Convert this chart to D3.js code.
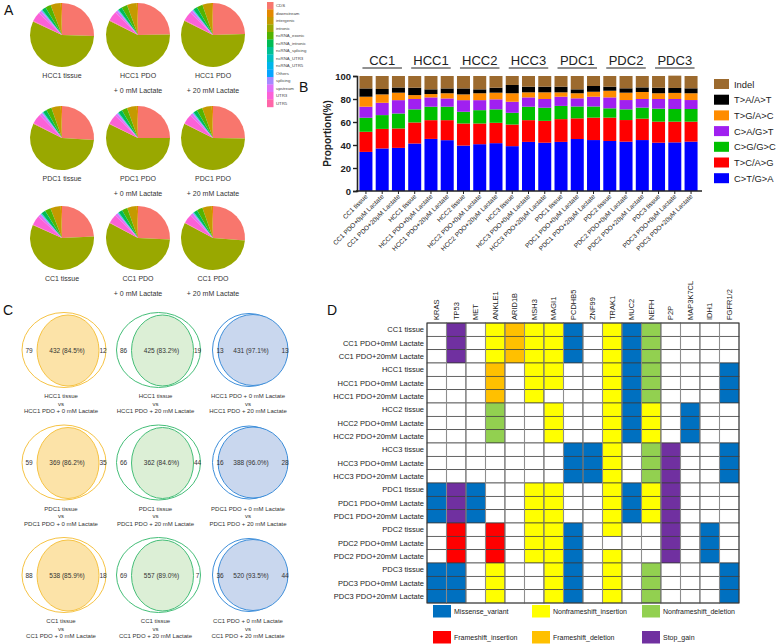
<!DOCTYPE html>
<html>
<head>
<meta charset="utf-8">
<script src="https://cdn.jsdelivr.net/npm/d3@7"></script>
<style>
  body { margin: 0; background: #fff; }
  svg { font-family: Arial, "Liberation Sans", sans-serif; }
</style>
</head>
<body>
<div id="figure"></div>
<script>
// ---------- panel A : region annotation pies ----------
const pieCategories = ["CDS", "downstream", "intergenic", "intronic", "ncRNA_exonic", "ncRNA_intronic",
  "ncRNA_splicing", "ncRNA_UTR3", "ncRNA_UTR5", "Others", "splicing", "upstream", "UTR3", "UTR5"];
// order the slices are laid out clockwise from 12 o'clock
const pieDrawOrder = ["CDS", "intronic", "UTR5", "UTR3", "upstream", "splicing", "Others", "ncRNA_UTR5",
  "ncRNA_UTR3", "ncRNA_splicing", "ncRNA_intronic", "ncRNA_exonic", "intergenic", "downstream"];
const pieRowNames = ["HCC1", "PDC1", "CC1"];
// values in pieCategories order, one array per sample (tissue, PDO+0, PDO+20)
const pieHCC1 = [
  [25.5, 0.6, 5.2, 56.5, 2.8, 2.0, 0.1, 0.2, 0.1, 0.2, 0.4, 1.3, 4.8, 0.3],
  [24.8, 0.6, 5.0, 57.6, 2.9, 1.9, 0.1, 0.2, 0.1, 0.2, 0.3, 1.2, 4.8, 0.3],
  [24.5, 0.5, 4.9, 57.9, 3.0, 2.0, 0.1, 0.2, 0.1, 0.2, 0.3, 1.3, 4.7, 0.3]
];
const piePDC1 = [
  [26.0, 0.6, 4.8, 56.4, 2.7, 1.9, 0.1, 0.2, 0.1, 0.2, 0.3, 1.4, 5.0, 0.3],
  [25.0, 0.6, 5.0, 57.2, 2.8, 2.0, 0.1, 0.2, 0.1, 0.2, 0.3, 1.3, 4.9, 0.3],
  [25.3, 0.6, 4.9, 57.0, 2.9, 1.9, 0.1, 0.2, 0.1, 0.2, 0.3, 1.3, 4.9, 0.3]
];
const pieCC1 = [
  [24.2, 0.6, 5.3, 57.5, 3.0, 2.1, 0.1, 0.2, 0.1, 0.2, 0.3, 1.4, 4.7, 0.3],
  [25.8, 0.6, 4.9, 56.9, 2.8, 2.0, 0.1, 0.2, 0.1, 0.2, 0.3, 1.3, 4.5, 0.3],
  [26.2, 0.6, 4.8, 56.6, 2.9, 1.9, 0.1, 0.2, 0.1, 0.2, 0.3, 1.3, 4.5, 0.3]
];

// ---------- panel B : mutation spectrum ----------
const spectrumTypes = ["C>T/G>A", "T>C/A>G", "C>G/G>C", "C>A/G>T", "T>G/A>C", "T>A/A>T", "Indel"];
const spectrumGroups = ["CC1", "HCC1", "HCC2", "HCC3", "PDC1", "PDC2", "PDC3"];
const spectrumSamples = [];
spectrumGroups.forEach(g => {
  spectrumSamples.push(g + " tissue", g + " PDO+0μM Lactate", g + " PDO+20μM Lactate");
});
const ctga  = [34, 37, 37.5, 41.3, 45.3, 44.2, 39.5, 40.7, 41.6, 39, 42.7, 42, 42.7, 45.2, 44.3, 43.5, 42.9, 44.3, 42, 42.3, 42.9];
const tcag  = [17.5, 17, 16.9, 18.3, 16.3, 17.4, 19.2, 18, 17.7, 18.8, 18.9, 19, 19.8, 18, 19.5, 20.3, 18.8, 18.6, 18.3, 18, 17.4];
const cggc  = [12.2, 12, 13, 11.4, 11.7, 11.7, 10.2, 11.6, 11.7, 10.2, 11.7, 11.4, 11.5, 10.3, 9.7, 8.1, 9.3, 9.6, 11.3, 11, 11];
const cagt  = [9.6, 10.7, 11.6, 9, 8.1, 7.2, 10.1, 8.7, 8.7, 9.6, 8.1, 7.6, 8, 7.1, 8.5, 9.5, 8.1, 7.5, 8.4, 8.7, 7.8];
const tgac  = [8.7, 7.3, 6.5, 3.4, 2.9, 4.5, 5, 6, 5.8, 7.4, 4.4, 5.8, 3.8, 4.4, 4.3, 5.8, 6.4, 6.1, 5, 5.3, 5.9];
const taat  = [7.2, 4.7, 4.5, 6.4, 4.1, 4.2, 5.2, 3.4, 4.3, 7.2, 4.9, 4.9, 4.9, 3.4, 5, 3.5, 3.8, 4, 4.8, 4.3, 4.3];
const indel = [10.8, 11.3, 10, 10.2, 11.6, 10.8, 10.8, 11.6, 10.2, 7.8, 9.3, 9.3, 9.3, 11.6, 8.7, 9.3, 10.7, 9.9, 10.2, 10.7, 10.7];
const spectrumTicks = [0, 20, 40, 60, 80, 100];

// ---------- panel C : venn overlaps ----------
const vennRows = ["HCC1", "PDC1", "CC1"];
const vennLeft   = [[79, 86, 13], [59, 66, 16], [88, 69, 36]];
const vennShared = [[432, 425, 431], [369, 362, 388], [538, 557, 520]];
const vennPct    = [["84.5%", "83.2%", "97.1%"], ["86.2%", "84.6%", "96.0%"], ["85.9%", "89.0%", "93.5%"]];
const vennRight  = [[12, 19, 13], [35, 44, 28], [18, 7, 44]];

// ---------- panel D : mutated genes ----------
const genes = ["KRAS", "TP53", "MET", "ANKLE1", "ARID1B", "MSH3", "MAGI1", "PCDHB5", "ZNF99", "TRAK1",
  "MUC2", "NEFH", "P2P", "MAP3K7CL", "IDH1", "FGFR1/2"];
const mutationSamples = [];
spectrumGroups.forEach(g => {
  mutationSamples.push(g + " tissue", g + " PDO+0mM Lactate", g + " PDO+20mM Lactate");
});
const mutationCodes = ["M", "I", "D", "F", "O", "S"];
const mutationTypes = ["Missense_variant", "Nonframeshift_insertion", "Nonframeshift_deletion",
  "Frameshift_insertion", "Frameshift_deletion", "Stop_gain"];
// one string per sample, one character per gene ("." = no mutation)
const mutationGrid = [
  ".S.IOIIM.IMD....", ".S.IOIIM.IMD....", ".S.IOIIM.IMD....",
  "...O.II..IMD...M", "...O.II..IMD...M", "...O.I...IMD...M",
  "...D..I..IMI.M..", "...D..I..IMI.M..", "...D..I..IMI.M..",
  ".......MMI.DS..M", ".......MMI.DS..M", ".......MMI.DS..M",
  "MSM..II..IMIS...", "MSM..II..IMIS...", "MSM..II..IMIS...",
  ".F.F.IIM.I..S.M.", ".F.F.IIM....S.M.", ".F.F.IIM.I..S.M.",
  "MM.I..IM.I.D...M", "MM.I..IM.I.D...M", "MM.I..IM.I.D...M"
];

// colours (styling, kept apart from the values)
const pieColors = ["#F8766D", "#E38900", "#C49A00", "#99A800", "#53B400", "#00BC56", "#00C094",
  "#00BFC4", "#00B6EB", "#06A4FF", "#A58AFF", "#DF70F8", "#FB61D7", "#FF66A8"];
const spectrumColors = ["#0000FF", "#FF0000", "#00C000", "#A020F0", "#FF8C00", "#000000", "#9C6A2E"];
const mutationColors = ["#0070C0", "#FFFF00", "#92D050", "#FF0000", "#FFC000", "#7030A0"];
const vennStyles = [
  { stroke: "#F6C344", fill: "#FCE3A8" },
  { stroke: "#45BE78", fill: "#DCEFD6" },
  { stroke: "#3D8EDA", fill: "#C9D7EE" }
];

const svg = d3.select("#figure").append("svg")
  .attr("width", 778).attr("height", 644)
  .style("background", "#fff");

Figure();

function Figure() {
  panelA();
  panelB();
  panelC();
  panelD();

  // panel letters
  const letters = [["A", 4, 15], ["B", 299, 92], ["C", 3, 315], ["D", 327, 315]];
  svg.selectAll(".letter").data(letters).enter().append("text")
    .attr("x", d => d[1]).attr("y", d => d[2])
    .style("font-size", "14px").style("fill", "#111")
    .text(d => d[0]);
}

function panelA() {
  const g = svg.append("g");
  const radius = 32;
  const colX = [62, 138, 213];
  const rowY = [35, 138, 238];
  const color = d3.scaleOrdinal().domain(pieCategories).range(pieColors);
  const pie = d3.pie()
    .value(d => d.value)
    .sort((a, b) => pieDrawOrder.indexOf(a.name) - pieDrawOrder.indexOf(b.name));
  const arc = d3.arc().innerRadius(0).outerRadius(radius);

  [pieHCC1, piePDC1, pieCC1].forEach((set, r) => {
    set.forEach((vals, c) => {
      const data = vals.map((v, i) => ({ name: pieCategories[i], value: v }));
      const pg = g.append("g").attr("transform", "translate(" + colX[c] + "," + rowY[r] + ")");
      pg.selectAll("path").data(pie(data)).enter().append("path")
        .attr("d", arc)
        .attr("fill", d => color(d.data.name));

      const name = pieRowNames[r];
      const lines = c === 0 ? [name + " tissue"]
        : [name + " PDO", c === 1 ? "+ 0 mM Lactate" : "+ 20 mM Lactate"];
      lines.forEach((t, i) => {
        pg.append("text")
          .attr("x", 0).attr("y", radius + 10.5 + i * 15)
          .attr("text-anchor", "middle")
          .style("font-size", "7px").style("fill", "#333")
          .text(t);
      });
    });
  });

  // legend strip
  const lg = g.append("g").attr("transform", "translate(267,2)");
  const step = 7.5;
  lg.selectAll("rect").data(pieCategories).enter().append("rect")
    .attr("x", 0).attr("y", (d, i) => i * step)
    .attr("width", 6.5).attr("height", step + 0.2)
    .attr("fill", d => color(d));
  lg.selectAll("text").data(pieCategories).enter().append("text")
    .attr("x", 9).attr("y", (d, i) => i * step + step / 2 + 1.5)
    .style("font-size", "4.3px").style("fill", "#444")
    .text(d => d);
}

function panelB() {
  const g = svg.append("g");
  const x = d3.scaleBand().domain(spectrumSamples).range([357, 700])
    .paddingInner(0.2).paddingOuter(0.15);
  const y = d3.scaleLinear().domain([0, 100]).range([191, 76]);

  const series = [ctga, tcag, cggc, cagt, tgac, taat, indel];
  const rows = spectrumSamples.map((s, i) => {
    const o = { sample: s };
    spectrumTypes.forEach((t, k) => { o[t] = series[k][i]; });
    return o;
  });
  const stacked = d3.stack().keys(spectrumTypes)(rows);

  g.selectAll(".layer").data(stacked).enter().append("g")
    .attr("fill", (d, i) => spectrumColors[i])
    .selectAll("rect").data(d => d).enter().append("rect")
    .attr("x", d => x(d.data.sample))
    .attr("y", d => y(d[1]))
    .attr("width", x.bandwidth())
    .attr("height", d => y(d[0]) - y(d[1]));

  // y axis
  const yAxis = g.append("g").attr("transform", "translate(357,0)")
    .call(d3.axisLeft(y).tickValues(spectrumTicks).tickSize(4).tickPadding(2));
  yAxis.select(".domain").attr("stroke", "#222").attr("stroke-width", 1.6);
  yAxis.selectAll(".tick line").attr("stroke", "#222").attr("stroke-width", 1.4);
  yAxis.selectAll(".tick text").style("font-size", "9.5px").style("font-weight", "bold")
    .style("fill", "#222").style("font-family", "Arial, 'Liberation Sans', sans-serif");

  // x axis
  const xAxis = g.append("g").attr("transform", "translate(0,191)")
    .call(d3.axisBottom(x).tickSize(3).tickSizeOuter(0).tickFormat(""));
  xAxis.select(".domain").attr("stroke", "#222").attr("stroke-width", 1.6)
    .attr("d", "M356,0H702");
  xAxis.selectAll(".tick line").attr("stroke", "#222").attr("stroke-width", 1);

  g.selectAll(".xlab").data(spectrumSamples).enter().append("text")
    .attr("transform", d => "translate(" + (x(d) + x.bandwidth() / 2 + 2) + ",197) rotate(-45)")
    .attr("text-anchor", "end")
    .style("font-size", "6.5px").style("fill", "#222")
    .text(d => d);

  // y title
  g.append("text")
    .attr("transform", "translate(331,133.5) rotate(-90)")
    .attr("text-anchor", "middle")
    .style("font-size", "10px").style("font-weight", "bold").style("fill", "#222")
    .text("Proportion(%)");

  // group headers with underline
  spectrumGroups.forEach((grp, i) => {
    const first = x(spectrumSamples[i * 3]);
    const last = x(spectrumSamples[i * 3 + 2]) + x.bandwidth();
    g.append("line")
      .attr("x1", first + 3).attr("x2", last - 3)
      .attr("y1", 68).attr("y2", 68)
      .attr("stroke", "#222").attr("stroke-width", 1);
    g.append("text")
      .attr("x", (first + last) / 2).attr("y", 65)
      .attr("text-anchor", "middle")
      .style("font-size", "13px").style("fill", "#222")
      .text(grp);
  });

  // legend, reversed so Indel sits on top
  const legendItems = spectrumTypes.map((t, i) => ({ t, c: spectrumColors[i] })).reverse();
  const lg = g.append("g").attr("transform", "translate(714,79)");
  legendItems.forEach((d, i) => {
    lg.append("rect").attr("x", 0).attr("y", i * 15.7)
      .attr("width", 15).attr("height", 10).attr("fill", d.c);
    lg.append("text").attr("x", 20).attr("y", i * 15.7 + 8.6)
      .style("font-size", "9.4px").style("fill", "#222")
      .text(d.t);
  });
}

function panelC() {
  const g = svg.append("g");
  const colX = [64, 158.5, 251];
  const rowY = [350, 462.5, 575];

  vennRows.forEach((name, r) => {
    const cy = rowY[r];
    const captions = [
      [name + " tissue", "vs", name + " PDO + 0 mM Lactate"],
      [name + " tissue", "vs", name + " PDO + 20 mM Lactate"],
      [name + " PDO + 0 mM Lactate", "vs", name + " PDO + 20 mM Lactate"]
    ];
    colX.forEach((cx, c) => {
      const st = vennStyles[c];
      const vg = g.append("g");
      let numX;
      if (c < 2) {
        // larger tissue set, PDO set nested inside
        vg.append("ellipse").attr("cx", cx).attr("cy", cy).attr("rx", 42).attr("ry", 37.5)
          .attr("fill", "none").attr("stroke", st.stroke).attr("stroke-width", 1);
        vg.append("ellipse").attr("cx", cx + 4).attr("cy", cy + 0.5).attr("rx", 31).attr("ry", 35.5)
          .attr("fill", st.fill).attr("stroke", st.stroke).attr("stroke-width", 1);
        numX = [cx - 35, cx + 3, cx + 39];
      } else {
        vg.append("ellipse").attr("cx", cx - 2).attr("cy", cy).attr("rx", 36.5).attr("ry", 36.5)
          .attr("fill", "none").attr("stroke", st.stroke).attr("stroke-width", 1);
        vg.append("ellipse").attr("cx", cx + 2).attr("cy", cy).attr("rx", 35).attr("ry", 35.5)
          .attr("fill", st.fill).attr("stroke", st.stroke).attr("stroke-width", 1);
        numX = [cx - 31, cx, cx + 34];
      }
      const nums = [vennLeft[r][c], vennShared[r][c] + " (" + vennPct[r][c] + ")", vennRight[r][c]];
      nums.forEach((t, i) => {
        vg.append("text").attr("x", numX[i]).attr("y", cy + 2.5)
          .attr("text-anchor", "middle")
          .style("font-size", "6.5px").style("fill", "#333")
          .text(t);
      });
      captions[c].forEach((t, i) => {
        vg.append("text").attr("x", cx - 3).attr("y", cy + 48 + i * 7.6)
          .attr("text-anchor", "middle")
          .style("font-size", "6px").style("fill", "#333")
          .text(t);
      });
    });
  });
}

function panelD() {
  const g = svg.append("g");
  const x = d3.scaleBand().domain(genes).range([427, 739]);
  const y = d3.scaleBand().domain(mutationSamples).range([323, 603]);
  const color = d3.scaleOrdinal().domain(mutationCodes).range(mutationColors);

  const cells = [];
  mutationGrid.forEach((row, i) => {
    row.split("").forEach((code, j) => {
      cells.push({ sample: mutationSamples[i], gene: genes[j], code });
    });
  });

  g.selectAll("rect.cell").data(cells).enter().append("rect")
    .attr("class", "cell")
    .attr("x", d => x(d.gene)).attr("y", d => y(d.sample))
    .attr("width", x.bandwidth()).attr("height", y.bandwidth())
    .attr("fill", d => d.code === "." ? "#fff" : color(d.code))
    .attr("stroke", "#3a3a3a").attr("stroke-width", 0.7);

  // lighter vertical rules between gene columns, as in the source table
  g.selectAll(".vrule").data(genes.slice(1)).enter().append("line")
    .attr("x1", d => x(d)).attr("x2", d => x(d))
    .attr("y1", 323).attr("y2", 603)
    .attr("stroke", "#9a9a9a").attr("stroke-width", 1.1).attr("opacity", 0.8);
  g.append("rect").attr("x", 427).attr("y", 323).attr("width", 312).attr("height", 280)
    .attr("fill", "none").attr("stroke", "#3a3a3a").attr("stroke-width", 0.9);

  // gene names
  g.selectAll(".gene").data(genes).enter().append("text")
    .attr("transform", d => "translate(" + (x(d) + x.bandwidth() / 2 + 2.5) + ",320) rotate(-90)")
    .style("font-size", "7.5px").style("fill", "#222")
    .text(d => d);

  // sample names
  g.selectAll(".sample").data(mutationSamples).enter().append("text")
    .attr("x", 424).attr("y", d => y(d) + y.bandwidth() / 2 + 2.7)
    .attr("text-anchor", "end")
    .style("font-size", "7.5px").style("fill", "#222")
    .text(d => d);

  // legend, two rows of three
  const legX = [433, 532, 642];
  const legY = [605, 631];
  mutationTypes.forEach((t, i) => {
    const lx = legX[i % 3], ly = legY[Math.floor(i / 3)];
    g.append("rect").attr("x", lx).attr("y", ly)
      .attr("width", 18).attr("height", 12.5)
      .attr("fill", mutationColors[i]);
    g.append("text").attr("x", lx + 21).attr("y", ly + 9)
      .style("font-size", "7px").style("fill", "#222")
      .text(t);
  });
}
</script>
</body>
</html>
